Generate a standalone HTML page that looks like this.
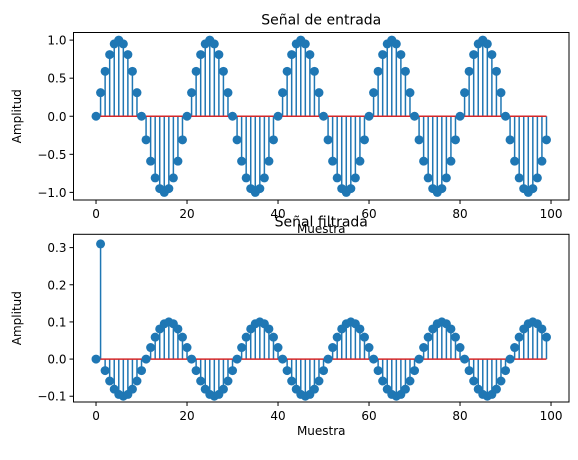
<!DOCTYPE html>
<html><head><meta charset="utf-8"><style>
body{margin:0;background:#fff}
svg text{font-family:"DejaVu Sans","Liberation Sans",sans-serif;fill:#000}
</style></head><body>
<svg id="c" width="578" height="455" xmlns="http://www.w3.org/2000/svg"></svg>
<script>
const samples1 = [0,0.31,0.59,0.81,0.95,1,0.95,0.81,0.59,0.31,0,-0.31,-0.59,-0.81,-0.95,-1,-0.95,-0.81,-0.59,-0.31,
0,0.31,0.59,0.81,0.95,1,0.95,0.81,0.59,0.31,0,-0.31,-0.59,-0.81,-0.95,-1,-0.95,-0.81,-0.59,-0.31,
0,0.31,0.59,0.81,0.95,1,0.95,0.81,0.59,0.31,0,-0.31,-0.59,-0.81,-0.95,-1,-0.95,-0.81,-0.59,-0.31,
0,0.31,0.59,0.81,0.95,1,0.95,0.81,0.59,0.31,0,-0.31,-0.59,-0.81,-0.95,-1,-0.95,-0.81,-0.59,-0.31,
0,0.31,0.59,0.81,0.95,1,0.95,0.81,0.59,0.31,0,-0.31,-0.59,-0.81,-0.95,-1,-0.95,-0.81,-0.59,-0.31];
const samples2 = [0,0.31,-0.031,-0.059,-0.081,-0.095,-0.1,-0.095,-0.081,-0.059,-0.031,0,0.031,0.059,0.081,0.095,0.1,0.095,0.081,0.059,
0.031,0,-0.031,-0.059,-0.081,-0.095,-0.1,-0.095,-0.081,-0.059,-0.031,0,0.031,0.059,0.081,0.095,0.1,0.095,0.081,0.059,
0.031,0,-0.031,-0.059,-0.081,-0.095,-0.1,-0.095,-0.081,-0.059,-0.031,0,0.031,0.059,0.081,0.095,0.1,0.095,0.081,0.059,
0.031,0,-0.031,-0.059,-0.081,-0.095,-0.1,-0.095,-0.081,-0.059,-0.031,0,0.031,0.059,0.081,0.095,0.1,0.095,0.081,0.059,
0.031,0,-0.031,-0.059,-0.081,-0.095,-0.1,-0.095,-0.081,-0.059,-0.031,0,0.031,0.059,0.081,0.095,0.1,0.095,0.081,0.059];
const xTicks = [0,20,40,60,80,100];
const yTicks1 = [1.0,0.5,0.0,-0.5,-1.0];
const yTicks2 = [0.3,0.2,0.1,0.0,-0.1];
const yLabels1 = ["1.0","0.5","0.0","\u22120.5","\u22121.0"];
const yLabels2 = ["0.3","0.2","0.1","0.0","\u22120.1"];

const svg = document.getElementById('c');
const NS = 'http://www.w3.org/2000/svg';
function mk(tag, attrs, parent){const e=document.createElementNS(NS,tag);for(const k in attrs)e.setAttribute(k,attrs[k]);(parent||svg).appendChild(e);return e;}

function panel(cfg){
  const g = mk('g',{});
  
  
  const L=73.5,R=569,T=cfg.top,B=cfg.bottom;
  const xs = v => L + (v - (-4.95)) / (103.95 + 4.95) * (R - L);
  const ys = v => B - (v - cfg.ymin) / (cfg.ymax - cfg.ymin) * (B - T);
  const stems = mk('g',{stroke:'#1f77b4','stroke-width':1.5},g);
  
  
  cfg.data.forEach((v,i)=>{mk('line',{x1:xs(i),x2:xs(i),y1:ys(0),y2:ys(v)},stems);});
  const base = mk('line',{x1:xs(0),x2:xs(cfg.data.length-1),y1:ys(0),y2:ys(0),stroke:'#d62728','stroke-width':1.5},g);
  
  
  const mg = mk('g',{fill:'#1f77b4'},g);
  
  
  cfg.data.forEach((v,i)=>{
    const c = mk('circle',{cx:xs(i),cy:ys(v),r:4.5},mg);
    
    
  });
  const frame = mk('rect',{x:L,y:T,width:R-L,height:B-T,fill:'none',stroke:'#000','stroke-width':1},g);
  
  
  xTicks.forEach(t=>{
    mk('line',{x1:xs(t),x2:xs(t),y1:B,y2:B+4,stroke:'#000'},g);
    const tx = mk('text',{x:xs(t),y:B+18,'font-size':12,'text-anchor':'middle'},g);
    tx.textContent = t;
    
    
  });
  cfg.yt.forEach((t,i)=>{
    mk('line',{x1:L-4,x2:L,y1:ys(t),y2:ys(t),stroke:'#000'},g);
    const tx = mk('text',{x:L-7,y:ys(t)+4.5,'font-size':12,'text-anchor':'end'},g);
    tx.textContent = cfg.yl[i];
    
    
  });
  const ti = mk('text',{x:(L+R)/2,y:T-8,'font-size':14,'text-anchor':'middle'},g);
  ti.textContent = cfg.title;
  
  
  const xl = mk('text',{x:(L+R)/2,y:B+33,'font-size':12,'text-anchor':'middle'},g);
  xl.textContent = 'Muestra';
  
  
  const yl = mk('text',{x:0,y:0,'font-size':12,'text-anchor':'middle',transform:`translate(21,${(T+B)/2}) rotate(-90)`},g);
  yl.textContent = 'Amplitud';
  
  
}
panel({name:'input-signal-panel',top:32.5,bottom:200,ymin:-1.1,ymax:1.1,data:samples1,yt:yTicks1,yl:yLabels1,title:'Señal de entrada'});
panel({name:'filtered-signal-panel',top:234.3,bottom:402,ymin:-0.1155,ymax:0.3358,data:samples2,yt:yTicks2,yl:yLabels2,title:'Señal filtrada'});
</script>
</body></html>
